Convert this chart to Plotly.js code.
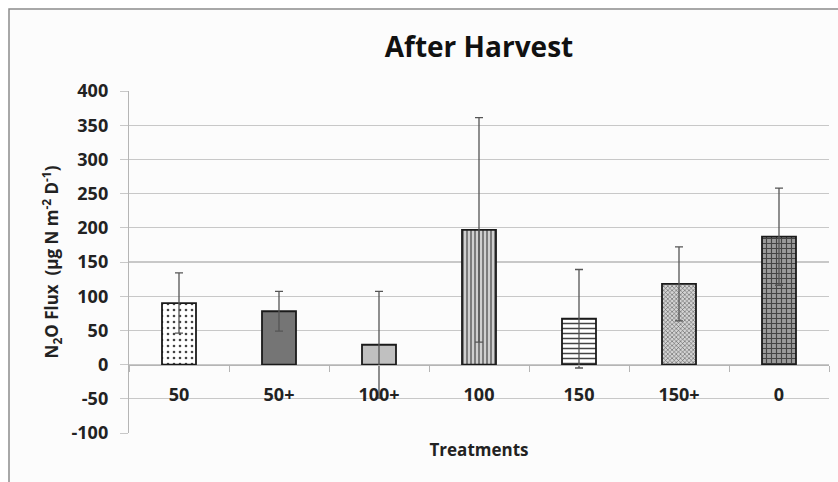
<!DOCTYPE html>
<html>
<head>
<meta charset="utf-8">
<script src="https://cdn.plot.ly/plotly-3.0.1.min.js"></script>
<style>html,body{margin:0;padding:0;background:#fff;}#chart{width:838px;height:482px;}</style>
</head>
<body>
<div id="chart"></div>
<script>
const treatments = ["50", "50+", "100+", "100", "150", "150+", "0"];
const fluxMean = [90, 78, 29, 197, 67, 118, 187];
const fluxError = [44, 29, 78, 164, 72, 54, 71];
const yTicks = [-100, -50, 0, 50, 100, 150, 200, 250, 300, 350, 400];

const barColors = ["#ffffff", "#757575", "#c0c0c0", "#cfcfcf", "#ffffff", "#d4d4d4", "#9a9a9a"];
const patternShapes = [".", "", "", "|", "-", "x", "+"];
const patternFg = ["#8a8a8a", "#757575", "#c0c0c0", "#555555", "#999999", "#7a7a7a", "#444444"];
const patternSize = [6, 6, 6, 4, 5, 3, 5];
const patternSolidity = [0.15, 0.3, 0.3, 0.3, 0.3, 0.3, 0.4];

const data = [{
  type: "bar",
  x: treatments,
  y: fluxMean,
  width: 0.34,
  marker: {
    color: barColors,
    line: {color: "#1a1a1a", width: 1.8},
    pattern: {
      shape: patternShapes,
      fgcolor: patternFg,
      size: patternSize,
      solidity: patternSolidity,
      fgopacity: 1,
      fillmode: "overlay"
    }
  },
  error_y: {type: "data", array: fluxError, visible: true, color: "#555555", thickness: 1.3, width: 4},
  hoverinfo: "x+y"
}];

const fam = "'Open Sans', Lato, Arial, sans-serif";

const layout = {
  width: 838, height: 482,
  margin: {l: 129, r: 9, t: 91, b: 49},
  paper_bgcolor: "#ffffff",
  plot_bgcolor: "rgba(0,0,0,0)",
  showlegend: false,
  font: {family: fam, color: "#222222"},
  title: {
    text: "<b>After Harvest</b>",
    font: {family: fam, size: 28, color: "#111111"},
    x: 0.5, xref: "paper", xanchor: "center",
    y: 1 - 47 / 482, yref: "container", yanchor: "middle"
  },
  xaxis: {
    type: "category",
    anchor: "free",
    position: 0.2,
    showline: true, linecolor: "#b5b5b5", linewidth: 1.2,
    showgrid: false,
    ticks: "outside", tickson: "boundaries", ticklen: 6, tickcolor: "#b5b5b5",
    ticklabelstandoff: 14,
    tickfont: {family: fam, size: 18, color: "#222222"},
    tickprefix: "<b>", ticksuffix: "</b>",
    title: {text: "<b>Treatments</b>", font: {family: fam, size: 17, color: "#222222"}, standoff: 38},
    fixedrange: true
  },
  yaxis: {
    range: [-100, 400],
    tickvals: yTicks,
    ticktext: yTicks.map(v => "<b>" + v + "</b>"),
    showline: true, linecolor: "#b5b5b5", linewidth: 1.2,
    showgrid: true, gridcolor: "#c8c8c8", gridwidth: 1.2,
    zeroline: false,
    ticks: "outside", ticklen: 8, tickcolor: "#c8c8c8",
    ticklabelstandoff: 8,
    tickfont: {family: fam, size: 18, color: "#222222"},
    title: {text: "<b>N<sub>2</sub>O Flux  (μg N m<sup>-2</sup> D<sup>-1</sup>)</b>", font: {family: fam, size: 17, color: "#222222"}, standoff: 8},
    fixedrange: true
  },
  shapes: [{
    type: "rect", xref: "paper", yref: "paper",
    x0: (9 - 129) / 700, x1: 1.03,
    y0: -0.2, y1: 1 + (91 - 9) / 342,
    line: {color: "#8c8c8c", width: 1.5},
    fillcolor: "#fcfcfc",
    layer: "below"
  }]
};

Plotly.newPlot("chart", data, layout, {displayModeBar: false, staticPlot: true});
</script>
</body>
</html>
